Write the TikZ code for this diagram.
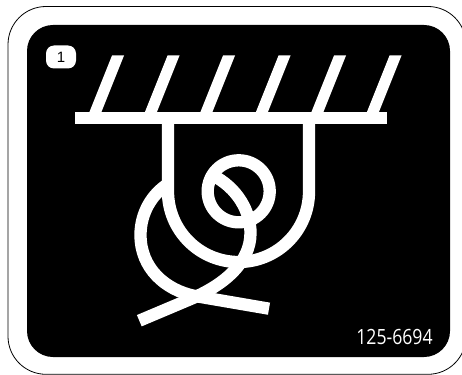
\documentclass[tikz,border=0pt]{standalone}
\usepackage{fontspec}
\setmainfont{Liberation Sans}
\newfontfamily\partfont[FakeStretch=0.84]{Open Sans}
\usepackage{tikz}
\begin{document}
\begin{tikzpicture}[
                  x=1pt,y=-1pt,
                  rope/.style={draw=white,line width=12.3pt},
                  hatch/.style={fill=white},
                  tag/.style={fill=white,rounded corners=8pt,minimum width=30pt,minimum height=23pt,inner sep=0pt,font=\fontsize{15}{16}\selectfont},
                  partno/.style={text=white,inner sep=0pt,font=\partfont\fontsize{21}{22}\selectfont}
                ]
                \useasboundingbox (0,0) rectangle (462,374);
                \clip (0,0) rectangle (462,374);
                \draw[line width=0.8pt,rounded corners=38pt] (8,6.5) rectangle (466,374.3);
                \fill[black,rounded corners=26pt] (27,25) rectangle (450,357);

                \node[tag] (num) at (61,57) {1};
                \node[partno] (part) at (394.5,337) {125-6694};

                % ceiling
                \fill[white] (75,112) rectangle (387,124);
                \foreach \i in {0,...,5}
                  \fill[hatch,shift={(55.5*\i,0)}] (89,113) -- (112,55.5) -- (124,55.5) -- (101,113) -- cycle;

                % hanging loop
                \draw[rope] (168,123) -- (168,191.5) arc[start angle=180,end angle=0,x radius=70.5,y radius=70.5] -- (309,123);

                % coil
                \draw[rope] (168,184) .. controls (152,194) and (140.5,213) .. (140.5,235)
                  .. controls (140.5,268) and (165,290) .. (195,296) -- (269,308.7);
                \draw[rope] (139.3,320.7) -- (188.3,300)
                  .. controls (225,285) and (250.5,262) .. (250.5,233)
                  .. controls (250.5,212) and (238,188) .. (212,175);
                \draw[rope] (238.7,191.3) circle[radius=31];
                \end{tikzpicture}
\end{document}
